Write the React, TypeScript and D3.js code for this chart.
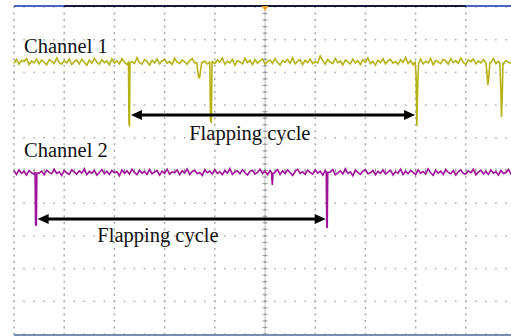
import * as d3 from 'd3';

const W = 511;
const H = 336;
// screen area in divisions: 10 x 10, cut on the right like the photo
const [left, right, top, bottom] = [14, 516, 7, 334];

const timeStep = 0.05; // divisions per sample

// channel 1 samples (divisions), baseline about 3.32
const ch1Noise = [
    3.28, 3.40, 3.25, 3.37, 3.33, 3.42, 3.24, 3.35, 3.29, 3.41,
    3.26, 3.38, 3.31, 3.23, 3.39, 3.34, 3.27, 3.44, 3.30, 3.25,
    3.36, 3.29, 3.41, 3.24, 3.33, 3.38, 3.26, 3.40, 3.31, 3.22,
    3.37, 3.28, 3.43, 3.32, 3.25, 3.39, 3.30, 3.35, 3.23, 3.41,
    3.29, 3.36, 3.26, 3.42, 3.31, 3.24, 3.38, 3.33, 3.27, 3.45,
    3.30, 3.25, 3.39, 3.34, 3.22, 3.37, 3.29, 3.41, 3.26, 3.35,
    3.40, 3.28, 3.33, 3.24, 3.43, 3.31, 3.27, 3.38, 3.32, 3.25,
    3.36, 3.42, 3.29, 3.23, 3.39, 3.30, 3.35, 3.26, 3.41, 3.33,
    3.27, 3.38, 3.31, 3.44, 3.25, 3.34, 3.29, 3.40, 3.22, 3.36,
    3.32, 3.26, 3.43, 3.30, 3.37, 3.24, 3.39, 3.28, 3.35, 3.41,
    3.25, 3.33, 3.38, 3.27, 3.42, 3.30, 3.23, 3.36, 3.31, 3.40,
    3.28, 3.45, 3.26, 3.34, 3.39, 3.24, 3.37, 3.30, 3.41, 3.27,
    3.33, 3.29, 3.50, 3.36, 3.25, 3.40, 3.31, 3.27, 3.43, 3.30,
    3.35, 3.23, 3.38, 3.32, 3.26, 3.41, 3.29, 3.36, 3.24, 3.39,
    3.31, 3.44, 3.27, 3.34, 3.22, 3.37, 3.30, 3.42, 3.26, 3.35,
    3.40, 3.28, 3.33, 3.25, 3.39, 3.31, 3.46, 3.27, 3.36, 3.24,
    3.38, 3.30, 3.41, 3.26, 3.34, 3.29, 3.43, 3.23, 3.37, 3.32,
    3.27, 3.40, 3.35, 3.25, 3.42, 3.30, 3.36, 3.28, 3.44, 3.31,
    3.24, 3.38, 3.33, 3.41, 3.26, 3.35, 3.29, 3.39, 3.23, 3.37,
    3.30, 3.43, 3.27, 3.34, 3.40, 3.25, 3.36, 3.31, 3.28, 3.42,
    3.33
];

// channel 2 samples (divisions), baseline about -0.05
const ch2Noise = [
    -0.01, -0.12, 0.02, -0.09, -0.03, -0.14, 0.00, -0.07, -0.11, 0.03,
    -0.08, -0.02, -0.13, 0.01, -0.06, -0.10, 0.04, -0.09, -0.04, -0.15,
    0.00, -0.07, -0.12, 0.02, -0.05, -0.11, -0.01, -0.08, 0.05, -0.13,
    -0.03, -0.09, 0.01, -0.14, -0.06, 0.03, -0.10, -0.02, -0.12, 0.00,
    -0.07, -0.04, -0.16, 0.02, -0.09, -0.01, -0.11, 0.04, -0.06, -0.13,
    0.01, -0.08, -0.03, -0.12, 0.03, -0.10, -0.05, 0.00, -0.14, -0.02,
    -0.09, 0.04, -0.11, -0.04, -0.07, 0.02, -0.13, -0.01, -0.08, 0.05,
    -0.12, -0.03, 0.01, -0.10, -0.06, -0.15, 0.02, -0.07, -0.02, -0.11,
    0.03, -0.09, -0.04, -0.13, 0.00, -0.08, 0.06, -0.12, -0.05, -0.01,
    -0.10, 0.02, -0.07, -0.14, -0.03, 0.01, -0.11, -0.06, 0.04, -0.09,
    -0.02, -0.13, 0.00, -0.08, -0.05, 0.03, -0.12, -0.01, -0.10, 0.02,
    -0.07, -0.15, -0.03, 0.04, -0.09, -0.04, -0.12, 0.01, -0.06, -0.11,
    0.02, -0.08, -0.02, -0.14, 0.00, -0.10, -0.05, 0.03, -0.13, -0.07,
    -0.01, -0.11, 0.05, -0.09, -0.04, -0.16, 0.01, -0.06, -0.12, -0.02,
    0.03, -0.10, -0.07, 0.00, -0.13, -0.03, -0.09, 0.02, -0.11, -0.05,
    0.01, -0.14, -0.04, -0.08, 0.04, -0.12, -0.02, -0.10, 0.00, -0.06,
    -0.13, 0.02, -0.09, -0.03, -0.11, 0.05, -0.07, -0.15, 0.01, -0.08,
    -0.02, -0.12, 0.03, -0.06, -0.10, 0.00, -0.14, -0.04, 0.02, -0.09,
    -0.11, -0.01, -0.07, 0.04, -0.13, -0.05, 0.01, -0.10, -0.03, -0.12,
    0.02, -0.08, -0.04, -0.14, 0.00, -0.09, -0.06, 0.03, -0.11, -0.02,
    -0.07
];

// drops in each trace: [time, value] points in divisions
const ch1Drops: [number, number][][] = [
    [[2.28, 3.3], [2.29, 1.41], [2.3, 1.39], [2.31, 3.28]],
    [[3.64, 3.3], [3.66, 3.05], [3.68, 2.84], [3.7, 2.86], [3.72, 3.1], [3.74, 3.3]],
    [[3.9, 3.31], [3.915, 1.5], [3.93, 1.48], [3.945, 3.3]],
    [[7.99, 3.31], [8.01, 2.9], [8.025, 1.36], [8.04, 2.5], [8.06, 3.28]],
    [[9.4, 3.3], [9.42, 3.0], [9.44, 2.62], [9.46, 2.9], [9.48, 3.3]],
    [[9.68, 3.28], [9.7, 2.4], [9.71, 1.64], [9.725, 2.2], [9.74, 3.3]]
];
const ch2Drops: [number, number][][] = [
    [[0.42, -0.05], [0.43, -1.66], [0.445, -1.67], [0.455, -0.08]],
    [[5.13, -0.06], [5.145, -0.44], [5.16, -0.1]],
    [[6.22, -0.04], [6.23, -1.72], [6.24, -1.73], [6.25, -0.06]]
];

// flapping cycle arrows: [start, end, level]
const arrows: [number, number, number][] = [
    [2.33, 7.99, 1.7],
    [0.47, 6.21, -1.48]
];

const labels = [
    { text: 'Channel 1', t: 0.2, v: 3.6 },
    { text: 'Channel 2', t: 0.2, v: 0.42 },
    { text: 'Flapping cycle', t: 3.49, v: 0.93 },
    { text: 'Flapping cycle', t: 1.66, v: -2.2 }
];

const x = d3.scaleLinear().domain([0, 10]).range([left, right]);
const y = d3.scaleLinear().domain([-5, 5]).range([bottom, top]);

function buildTrace(noise: number[], drops: [number, number][][]) {
    const pts: [number, number][] = noise
        .map((v, i) => [i * timeStep, v] as [number, number])
        .filter(([t]) => !drops.some((d) => t >= d[0][0] && t <= d[d.length - 1][0]));
    drops.forEach((d) => pts.push(...d));
    return pts.sort((a, b) => a[0] - b[0]);
}

const line = d3
    .line<[number, number]>()
    .x((d) => x(d[0]))
    .y((d) => y(d[1]));

const serif = '"Times New Roman", "Liberation Serif", "DejaVu Serif", serif';

export default function App() {
    const minorT = d3.range(0, 10.01, 0.2);
    const minorV = d3.range(-5, 5.01, 0.2);
    const majorT = d3.range(0, 10);
    const majorV = d3.range(-5, 6);

    return (
        <svg width={W} height={H} style={{ position: 'absolute', left: 0, top: 0, background: '#ffffff' }}>
            {/* dotted graticule */}
            <g fill="#a8a8a8">
                {majorV.map((v) =>
                    minorT.map((t) => (
                        <rect key={`h${v}-${t}`} x={x(t) - 0.75} y={y(v) - 0.75} width={1.5} height={1.5} />
                    ))
                )}
                {majorT.map((t) =>
                    minorV.map((v) => (
                        <rect key={`v${t}-${v}`} x={x(t) - 0.75} y={y(v) - 1} width={1.5} height={2} />
                    ))
                )}
            </g>
            {/* centre axes with ticks */}
            <g stroke="#9a9a9a" strokeWidth={1}>
                <line x1={x(5)} x2={x(5)} y1={y(5)} y2={y(-5)} strokeOpacity={0.6} />
                {minorV.map((v) => (
                    <line key={`cv${v}`} x1={x(5) - 2.5} x2={x(5) + 2.5} y1={y(v)} y2={y(v)} />
                ))}
                {minorT.map((t) => (
                    <line key={`ch${t}`} x1={x(t)} x2={x(t)} y1={y(0) - 2} y2={y(0) + 2} />
                ))}
            </g>
            {/* frame */}
            <line x1={x(0)} x2={W} y1={y(5) - 1} y2={y(5) - 1} stroke="#161a3a" strokeWidth={2} />
            <line x1={x(0)} x2={x(1)} y1={y(5) - 1} y2={y(5) - 1} stroke="#4a64c4" strokeWidth={2} />
            <line x1={x(9)} x2={W} y1={y(5) - 1} y2={y(5) - 1} stroke="#4a64c4" strokeWidth={2} />
            <line x1={x(0)} x2={W} y1={y(-5) + 1} y2={y(-5) + 1} stroke="#7a8cb0" strokeWidth={2} />
            <path
                d={`M${x(5) - 3.5},${y(5) - 1}L${x(5) + 3.5},${y(5) - 1}L${x(5)},${y(5) + 4}Z`}
                fill="#f0a028"
            />

            {/* traces */}
            <path d={line(buildTrace(ch1Noise, ch1Drops)) ?? ''} fill="none" stroke="#b6b214" strokeWidth={1.6} />
            <path d={line(buildTrace(ch2Noise, ch2Drops)) ?? ''} fill="none" stroke="#a0129a" strokeWidth={1.6} />

            {/* arrows */}
            {arrows.map(([t0, t1, v], i) => {
                const x0 = x(t0);
                const x1 = x(t1);
                const yy = y(v);
                return (
                    <g key={`a${i}`} fill="#000000">
                        <line x1={x0 + 8} x2={x1 - 8} y1={yy} y2={yy} stroke="#000000" strokeWidth={3} />
                        <path d={`M${x0},${yy}L${x0 + 11},${yy - 5}L${x0 + 11},${yy + 5}Z`} />
                        <path d={`M${x1},${yy}L${x1 - 11},${yy - 5}L${x1 - 11},${yy + 5}Z`} />
                    </g>
                );
            })}

            {labels.map((l, i) => (
                <text
                    key={`l${i}`}
                    x={x(l.t)}
                    y={y(l.v)}
                    fill="#111111"
                    fontFamily={serif}
                    fontSize={20.5}
                >
                    {l.text}
                </text>
            ))}
        </svg>
    );
}
